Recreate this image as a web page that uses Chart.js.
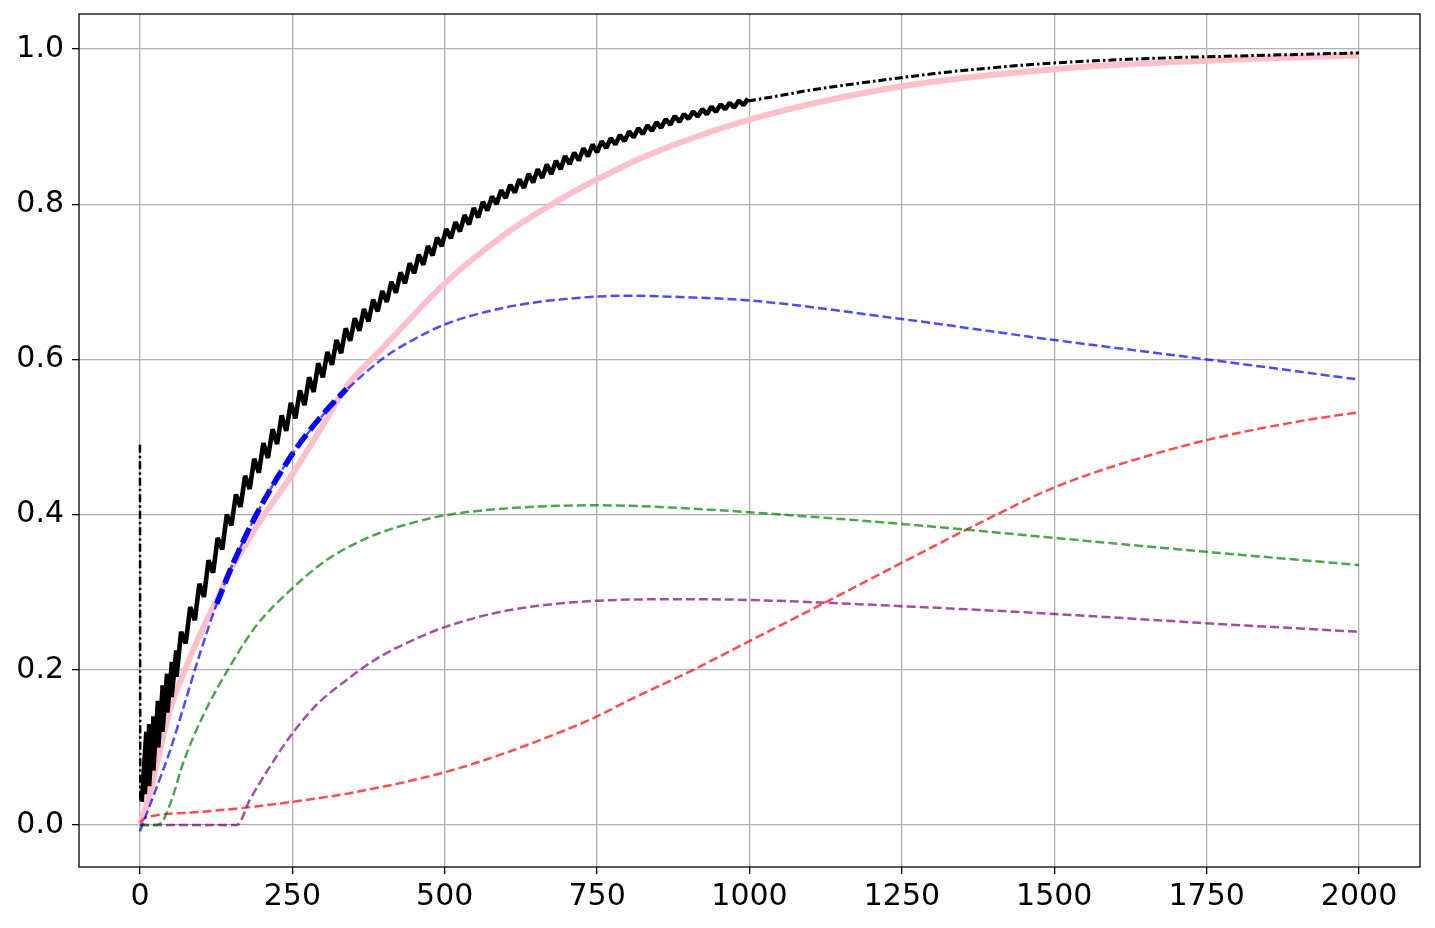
<!DOCTYPE html>
<html>
<head>
<meta charset="utf-8">
<script src="https://cdn.jsdelivr.net/npm/chart.js@4.4.1/dist/chart.umd.min.js"></script>
<style>
  html, body { margin: 0; padding: 0; background: #fff; }
  #wrap { width: 1435px; height: 928px; }
</style>
</head>
<body>
<div id="wrap"><canvas id="chart" width="1435" height="928"></canvas></div>
<script>
// tick labels
const xTicks = [0, 250, 500, 750, 1000, 1250, 1500, 1750, 2000];
const yTicks = [0, 0.2, 0.4, 0.6, 0.8, 1.0];

// pink solid curve
const pinkX = [0, 16, 25, 49, 74, 100, 126, 150, 200, 250, 300, 339, 400, 500, 600, 700, 750, 836, 1000, 1250, 1500, 1750, 2000];
const pinkY = [0, 0.04, 0.07, 0.148, 0.2, 0.248, 0.29, 0.33, 0.395, 0.452, 0.515, 0.565, 0.616, 0.698, 0.762, 0.811, 0.832, 0.864, 0.909, 0.952, 0.974, 0.985, 0.992];

// blue dashed curve
const blueX = [0, 16, 49, 70, 98, 126, 150, 191, 250, 300, 333, 400, 450, 500, 600, 700, 800, 900, 1000, 1250, 1500, 1750, 2000];
const blueY = [-0.008, 0.025, 0.095, 0.148, 0.22, 0.285, 0.332, 0.4, 0.478, 0.528, 0.556, 0.602, 0.626, 0.645, 0.667, 0.678, 0.682, 0.68, 0.676, 0.652, 0.625, 0.6, 0.574];

// bold blue dashed segment
const blueBoldX = [126, 150, 191, 250, 284, 310, 339];
const blueBoldY = [0.285, 0.332, 0.4, 0.478, 0.514, 0.538, 0.562];

// green dashed curve
const greenX = [0, 27, 38, 54, 70, 103, 148, 191, 250, 300, 339, 392, 450, 500, 600, 750, 900, 1000, 1250, 1500, 1750, 2000];
const greenY = [0, 0, 0.006, 0.037, 0.078, 0.14, 0.205, 0.257, 0.305, 0.338, 0.357, 0.376, 0.39, 0.399, 0.408, 0.412, 0.408, 0.403, 0.388, 0.37, 0.352, 0.335];

// purple dashed curve
const purpleX = [0, 159, 180, 213, 250, 290, 339, 392, 450, 500, 600, 750, 900, 1000, 1250, 1500, 1750, 2000];
const purpleY = [0, 0, 0.032, 0.075, 0.118, 0.155, 0.187, 0.216, 0.239, 0.255, 0.276, 0.289, 0.291, 0.29, 0.282, 0.272, 0.26, 0.249];

// red dashed curve
const redX = [0, 8, 16, 100, 169, 250, 344, 500, 600, 700, 750, 800, 900, 1000, 1100, 1250, 1400, 1500, 1600, 1750, 1900, 2000];
const redY = [0.003, 0.009, 0.011, 0.017, 0.022, 0.03, 0.041, 0.068, 0.093, 0.123, 0.14, 0.16, 0.197, 0.237, 0.277, 0.338, 0.398, 0.435, 0.463, 0.496, 0.52, 0.532];

// black dash-dot curve: start spike, jagged zigzag band, then smooth tail
const blackStartX = [0, 0.5];
const blackStartY = [0.49, 0.03];
// zigzag: valley at toothX, peak half a step later
const toothX = [3, 8, 15, 22, 30, 37, 45, 52, 60, 75, 90, 105, 120, 135, 150, 165, 180, 195, 210, 225, 240, 255, 270,
  285, 300, 315, 330, 345, 360, 375, 390, 405, 420, 435, 450, 465, 480, 495, 510, 525, 540, 555, 570,
  585, 600, 615, 630, 645, 660, 675, 690, 705, 720, 735, 750, 765, 780, 795, 810, 825, 840, 855, 870,
  885, 900, 915, 930, 945, 960, 975, 990];
const valleyY = [0.03, 0.04, 0.05, 0.07, 0.10, 0.12, 0.145, 0.165, 0.191, 0.234, 0.264, 0.294, 0.325, 0.355, 0.386, 0.41, 0.433, 0.454, 0.473, 0.491, 0.508, 0.524, 0.541,
  0.558, 0.577, 0.593, 0.608, 0.624, 0.637, 0.649, 0.662, 0.674, 0.686, 0.698, 0.711, 0.722, 0.734, 0.746, 0.756, 0.765, 0.774, 0.783, 0.792,
  0.8, 0.808, 0.815, 0.821, 0.828, 0.834, 0.839, 0.845, 0.8515, 0.8565, 0.8615, 0.867, 0.8725, 0.877, 0.8815, 0.886, 0.8905, 0.8945, 0.8985, 0.9025,
  0.906, 0.91, 0.913, 0.916, 0.919, 0.9225, 0.9245, 0.9275];
const peakY = [0.12, 0.13, 0.14, 0.16, 0.18, 0.195, 0.21, 0.225, 0.249, 0.281, 0.311, 0.341, 0.37, 0.4, 0.426, 0.45, 0.472, 0.492, 0.51, 0.528, 0.544, 0.56, 0.577,
  0.595, 0.6095, 0.625, 0.64, 0.653, 0.665, 0.677, 0.688, 0.7, 0.712, 0.724, 0.735, 0.746, 0.757, 0.768, 0.777, 0.786, 0.795, 0.803, 0.81,
  0.818, 0.825, 0.832, 0.839, 0.845, 0.851, 0.856, 0.862, 0.8665, 0.872, 0.877, 0.881, 0.885, 0.889, 0.8937, 0.898, 0.9015, 0.9055, 0.9095, 0.9135,
  0.916, 0.9195, 0.9225, 0.9255, 0.9285, 0.9305, 0.9335, 0.936];
const tailX = [997.5, 1050, 1100, 1200, 1300, 1400, 1500, 1600, 1700, 1800, 1900, 2000];
const tailY = [0.933, 0.94, 0.947, 0.958, 0.968, 0.976, 0.982, 0.986, 0.989, 0.991, 0.993, 0.995];

const pts = (xs, ys) => xs.map((x, i) => ({ x, y: ys[i] }));

const toothPts = [];
toothX.forEach((x, i) => {
  toothPts.push({ x, y: valleyY[i] }, { x: x + 7.5, y: peakY[i] });
});

const dashed = (data, color, order) => ({
  data, borderColor: color, borderWidth: 2.5, borderDash: [9, 4],
  pointRadius: 0, cubicInterpolationMode: "monotone", order
});

const framePlugin = {
  id: "frame",
  afterDatasetsDraw(chart) {
    const { ctx, chartArea: a } = chart;
    ctx.save();
    ctx.strokeStyle = "#000";
    ctx.lineWidth = 1.3;
    ctx.strokeRect(a.left, a.top, a.right - a.left, a.bottom - a.top);
    ctx.restore();
  }
};

Chart.defaults.font.family = "'DejaVu Sans', sans-serif";
Chart.defaults.font.size = 30;
Chart.defaults.color = "#000";

new Chart(document.getElementById("chart"), {
  type: "line",
  data: {
    datasets: [
      {
        data: pts(blackStartX, blackStartY), borderColor: "#000", borderWidth: 2.5, borderDash: [8, 3, 2.5, 3],
        pointRadius: 0, tension: 0, order: 0
      },
      {
        data: toothPts, borderColor: "#000", borderWidth: 4.6, borderJoinStyle: "bevel",
        pointRadius: 0, tension: 0, order: 0
      },
      {
        data: pts(tailX, tailY), borderColor: "#000", borderWidth: 3, borderDash: [8, 3, 2.5, 3],
        pointRadius: 0, cubicInterpolationMode: "monotone", order: 0
      },
      {
        data: pts(blueBoldX, blueBoldY), borderColor: "#0000ff", borderWidth: 5.5, borderDash: [16, 6],
        pointRadius: 0, cubicInterpolationMode: "monotone", order: 1
      },
      dashed(pts(blueX, blueY), "rgba(0,0,255,0.7)", 2),
      dashed(pts(greenX, greenY), "rgba(0,128,0,0.7)", 3),
      dashed(pts(purpleX, purpleY), "rgba(128,0,128,0.7)", 4),
      dashed(pts(redX, redY), "rgba(255,0,0,0.7)", 5),
      {
        data: pts(pinkX, pinkY), borderColor: "#ffc0cb", borderWidth: 6,
        pointRadius: 0, cubicInterpolationMode: "monotone", order: 6
      }
    ]
  },
  options: {
    responsive: false,
    animation: false,
    devicePixelRatio: 1,
    layout: { padding: { top: 14, right: 15, left: 0, bottom: 0 } },
    plugins: { legend: { display: false }, tooltip: { enabled: false } },
    scales: {
      x: {
        type: "linear",
        min: -100,
        max: 2100,
        afterBuildTicks: (s) => { s.ticks = xTicks.map(v => ({ value: v })); },
        afterFit: (s) => { s.height = 61; s.paddingLeft = 0; s.paddingRight = 0; },
        grid: { color: "#b0b0b0", lineWidth: 1.3, tickColor: "#000", tickLength: 7, tickWidth: 1.3 },
        border: { display: false },
        ticks: { padding: 5, maxRotation: 0, autoSkip: false, callback: (v) => String(v) }
      },
      y: {
        min: -0.0541,
        max: 1.0451,
        afterBuildTicks: (s) => { s.ticks = yTicks.map(v => ({ value: v })); },
        afterFit: (s) => { s.width = 79; s.paddingTop = 0; s.paddingBottom = 0; },
        grid: { color: "#b0b0b0", lineWidth: 1.3, tickColor: "#000", tickLength: 7, tickWidth: 1.3 },
        border: { display: false },
        ticks: { padding: 8, autoSkip: false, callback: (v) => v.toFixed(1) }
      }
    }
  },
  plugins: [framePlugin]
});
</script>
</body>
</html>
